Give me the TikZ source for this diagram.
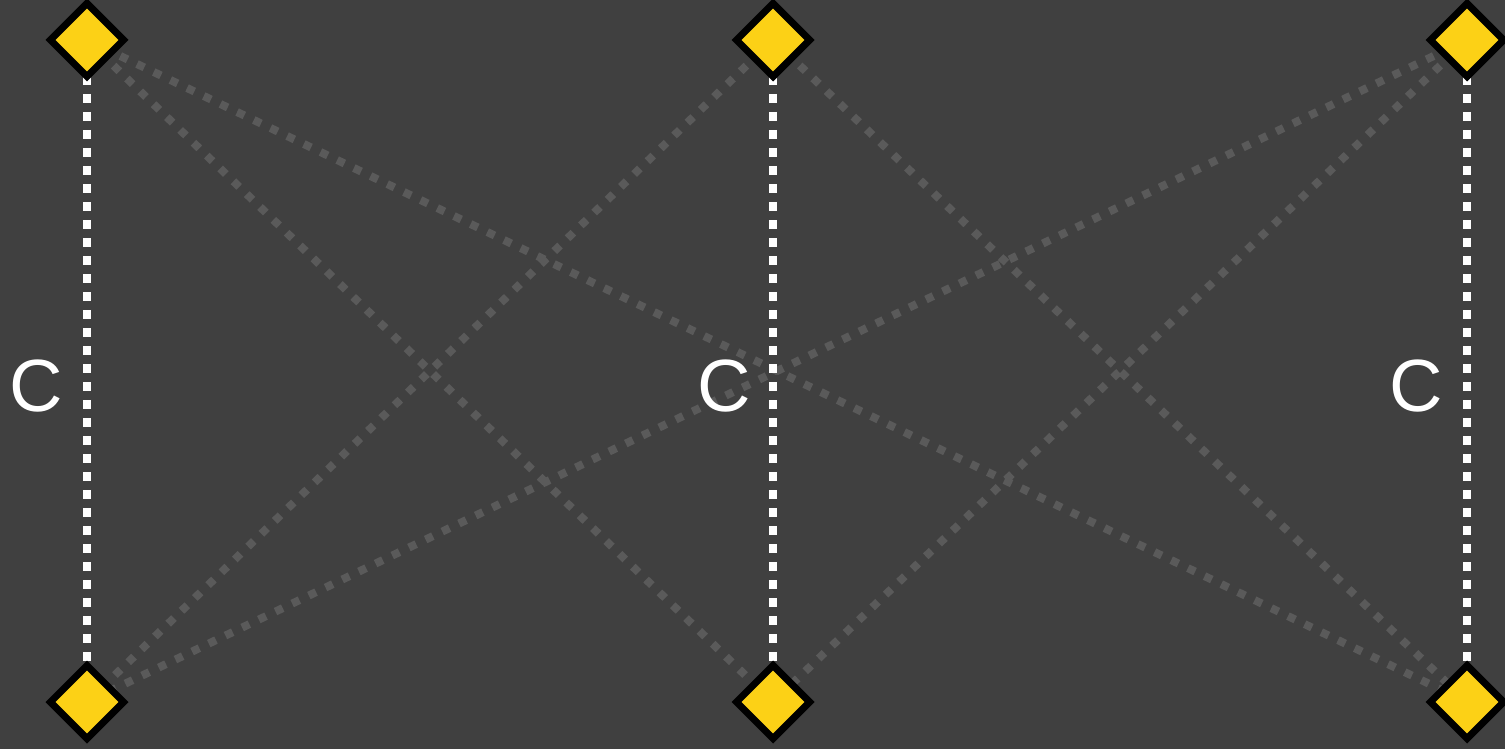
\documentclass[tikz,border=0pt]{standalone}
\usepackage{fontspec}
\setmainfont{Liberation Sans}
\usetikzlibrary{shapes.geometric}
\definecolor{bgc}{HTML}{404040}
\definecolor{yel}{HTML}{FCD116}
\definecolor{lgray}{HTML}{5A5A5A}
\pgfdeclarelayer{bg}
\pgfsetlayers{bg,main}
\tikzset{
  gem/.style={diamond, draw=black, line width=7pt, fill=yel, inner sep=0pt, minimum width=76pt, minimum height=76pt},
  cross/.style={draw=lgray, line width=8pt, dash pattern=on 8pt off 10.5pt},
  side/.style={draw=white, line width=8pt, dash pattern=on 9pt off 9pt},
  lab/.style={text=white, font=\fontsize{74}{74}\selectfont, inner sep=0pt}
}
\begin{document}
\begin{tikzpicture}[x=1pt,y=-1pt]
\begin{pgfonlayer}{bg}
\fill[bgc] (0,0) rectangle (1505,749);
\end{pgfonlayer}
\useasboundingbox (0,0) rectangle (1505,749);
\node[gem] (tl) at (87,40) {};
\node[gem] (tm) at (773,40) {};
\node[gem] (tr) at (1467,40) {};
\node[gem] (bl) at (87,702) {};
\node[gem] (bm) at (773,702) {};
\node[gem] (br) at (1467,702) {};
\node[lab] (cl) at (36,386) {C};
\node[lab] (cm) at (724,386) {C};
\node[lab] (cr) at (1416,386) {C};
\begin{pgfonlayer}{bg}
\draw[cross] (tl.center) -- (bm.center);
\draw[cross] (tl.center) -- (br.center);
\draw[cross] (tm.center) -- (bl.center);
\draw[cross] (tm.center) -- (br.center);
\draw[cross] (tr.center) -- (bl.center);
\draw[cross] (tr.center) -- (bm.center);
\draw[side] (tl.center) -- (bl.center);
\draw[side] (tm.center) -- (bm.center);
\draw[side] (tr.center) -- (br.center);
\end{pgfonlayer}
\end{tikzpicture}
\end{document}
